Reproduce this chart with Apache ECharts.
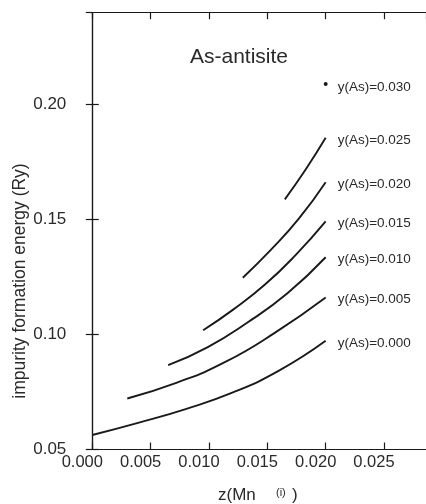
<!DOCTYPE html>
<html>
<head>
<meta charset="utf-8">
<script src="https://cdn.jsdelivr.net/npm/echarts@6/dist/echarts.min.js"></script>
<style>html,body{margin:0;padding:0;background:#fff}#c{width:426px;height:504px}</style>
</head>
<body>
<div id="c"></div>
<script>
// Data: [z(Mn), energy (Ry)]
var curve000 = [[0.0000,0.0561],[0.0040,0.0615],[0.0080,0.0674],[0.0120,0.0745],[0.0160,0.0841],[0.0200,0.0971]];
var curve005 = [[0.0030,0.0720],[0.0072,0.0788],[0.0114,0.0879],[0.0157,0.1008],[0.0200,0.1160]];
var curve010 = [[0.0065,0.0865],[0.0099,0.0944],[0.0133,0.1051],[0.0167,0.1177],[0.0200,0.1335]];
var curve015 = [[0.0095,0.1017],[0.0121,0.1108],[0.0148,0.1216],[0.0174,0.1343],[0.0200,0.1491]];
var curve020 = [[0.0129,0.1246],[0.0153,0.1367],[0.0177,0.1503],[0.0200,0.1662]];
var curve025 = [[0.0165,0.1587],[0.0183,0.1718],[0.0200,0.1855]];
var point030 = [[0.0200,0.2090]];
var curveNames = ['y(As)=0.000','y(As)=0.005','y(As)=0.010','y(As)=0.015','y(As)=0.020','y(As)=0.025','y(As)=0.030'];
var xTickInterval = 0.005;
var yTickInterval = 0.05;
var titleText = 'As-antisite';
var yAxisTitle = 'impurity formation energy (Ry)';

var FONT = 'Liberation Sans, Arial, Helvetica, sans-serif';
var INK = '#1a1a1a';
var TXT = '#2a2a2a';

var chart = echarts.init(document.getElementById('c'), null, {renderer:'canvas'});

function lineSeries(data, name) {
  return {
    type: 'line', name: name, data: data, smooth: 0.5,
    showSymbol: false, symbol: 'none',
    lineStyle: {color: INK, width: 1.9}, silent: true, animation: false,
    endLabel: {show: true, formatter: name, distance: 12, offset: [0, 2],
      color: TXT, fontSize: 13.5, fontFamily: FONT}
  };
}

function axisBase(extra) {
  var a = {
    type: 'value', splitLine: {show: false},
    axisLine: {show: true, lineStyle: {color: INK, width: 1.2}},
    axisTick: {show: true, inside: true, length: 6.5, lineStyle: {color: INK, width: 1.2}}
  };
  for (var k in extra) a[k] = extra[k];
  return a;
}

var option = {
  animation: false,
  backgroundColor: '#fff',
  grid: {left: 92.3, top: 12.7, right: 0, bottom: 55, containLabel: false, outerBoundsMode: 'none'},
  xAxis: [
    axisBase({
      min: 0, max: 0.0286, interval: xTickInterval, position: 'bottom',
      axisLabel: {show: true, showMaxLabel: false, margin: 5, padding: [0, 20, 0, 0],
        color: TXT, fontSize: 16.5, fontFamily: FONT,
        formatter: function (v) { return v.toFixed(3); }}
    }),
    axisBase({
      min: 0, max: 0.0286, interval: xTickInterval, position: 'top',
      axisLabel: {show: false}
    })
  ],
  yAxis: [
    axisBase({
      min: 0.05, max: 0.24, interval: yTickInterval, position: 'left',
      axisLabel: {show: true, showMaxLabel: false, margin: 26,
        color: TXT, fontSize: 17, fontFamily: FONT,
        formatter: function (v) { return v.toFixed(2); }}
    }),
    axisBase({
      min: 0.05, max: 0.24, interval: yTickInterval, position: 'right', offset: 3,
      axisLabel: {show: false}
    })
  ],
  series: [
    lineSeries(curve000, curveNames[0]),
    lineSeries(curve005, curveNames[1]),
    lineSeries(curve010, curveNames[2]),
    lineSeries(curve015, curveNames[3]),
    lineSeries(curve020, curveNames[4]),
    lineSeries(curve025, curveNames[5]),
    {
      type: 'scatter', data: point030, symbol: 'circle', symbolSize: 4,
      itemStyle: {color: INK, opacity: 1}, silent: true,
      label: {show: true, position: 'right', distance: 10, offset: [0, 3],
        formatter: curveNames[6], color: TXT, fontSize: 13.5, fontFamily: FONT}
    }
  ],
  graphic: [
    {type: 'text', left: 190, top: 47, style: {text: titleText, fill: TXT, font: '21px ' + FONT}},
    {type: 'text', x: 20, y: 281, rotation: Math.PI / 2,
      style: {text: yAxisTitle, fill: TXT, font: '17.5px ' + FONT, align: 'center', verticalAlign: 'middle'}},
    {type: 'text', left: 218, top: 487, style: {text: 'z(Mn', fill: TXT, font: '17px ' + FONT}},
    {type: 'text', left: 276, top: 487, style: {text: '(i)', fill: TXT, font: '11px ' + FONT}},
    {type: 'text', left: 292, top: 487, style: {text: ')', fill: TXT, font: '17px ' + FONT}}
  ]
};
chart.setOption(option);
</script>
</body>
</html>
